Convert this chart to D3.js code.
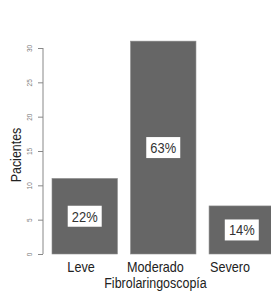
<!DOCTYPE html>
<html>
<head>
<meta charset="utf-8">
<script src="https://cdn.jsdelivr.net/npm/d3@7"></script>
<style>
  html, body { margin: 0; padding: 0; background: #fff; }
  svg { display: block; }
  text { font-family: 'Liberation Sans', Arial, sans-serif; }
</style>
</head>
<body>
<svg id="chart"></svg>
<script>
// Fibrolaringoscopía: patients per severity grade, percent boxed inside each bar.
var categories = ['Leve', 'Moderado', 'Severo'];
var pacientes  = [11, 31, 7];
var percents   = ['22%', '63%', '14%'];
var yTicks     = [0, 5, 10, 15, 20, 25, 30];

(function () {
    var W = 271, H = 294;
    var svg = d3.select('#chart').attr('width', W).attr('height', H);

    var x = d3.scaleBand().domain(categories)
        .range([52, 274.5]).paddingInner(0.1667).paddingOuter(0);
    // category labels sit on a slightly tighter spacing than the bars
    var xl = d3.scaleBand().domain(categories)
        .range([50, 261]).paddingInner(0.1667).paddingOuter(0);
    var y = d3.scaleLinear().domain([0, 30]).range([254, 48]);

    // condensed look: squeeze text horizontally
    function squeeze(cx, cy, sx, rot) {
        return 'translate(' + cx + ',' + cy + ')' + (rot ? ' rotate(' + rot + ')' : '') + ' scale(' + sx + ',1)';
    }

    // Bars
    svg.append('g').selectAll('rect')
        .data(categories)
        .enter().append('rect')
        .attr('x', function (d) { return x(d); })
        .attr('y', function (d, i) { return y(pacientes[i]); })
        .attr('width', x.bandwidth())
        .attr('height', function (d, i) { return y(0) - y(pacientes[i]); })
        .attr('fill', '#666666')
        .attr('stroke', '#8c8c8c')
        .attr('stroke-width', 0.6);

    // Boxed percent labels
    var lab = svg.append('g').selectAll('g')
        .data(categories)
        .enter().append('g')
        .attr('transform', function (d, i) {
            return 'translate(' + (x(d) + x.bandwidth() / 2) + ',' + y(pacientes[i] / 2) + ')';
        });
    lab.append('rect')
        .attr('x', -17).attr('y', -10.5)
        .attr('width', 34).attr('height', 21)
        .attr('fill', '#fff');
    lab.append('text')
        .attr('text-anchor', 'middle')
        .attr('dy', '0.36em')
        .attr('transform', 'scale(0.86,1)')
        .attr('font-size', 15)
        .attr('fill', '#333')
        .text(function (d, i) { return percents[i]; });

    // Y axis
    var ay = svg.append('g').attr('transform', 'translate(43,0)')
        .call(d3.axisLeft(y).tickValues(yTicks).tickSize(5).tickPadding(0)
            .tickFormat(function (d) { return d; }));
    ay.select('.domain').attr('stroke', '#888').attr('d', 'M0,' + y(0) + 'V' + y(30));
    ay.selectAll('.tick line').attr('stroke', '#888');
    ay.selectAll('.tick text')
        .attr('x', 0).attr('y', 2).attr('dy', 0)
        .attr('transform', 'translate(-13,0) rotate(-90)')
        .attr('text-anchor', 'middle')
        .attr('font-size', 6.5)
        .attr('fill', '#777');

    // Category labels
    svg.append('g').selectAll('text')
        .data(categories)
        .enter().append('text')
        .attr('transform', function (d) { return squeeze(xl(d) + xl.bandwidth() / 2, 271.5, 0.87); })
        .attr('text-anchor', 'middle')
        .attr('font-size', 14.5)
        .attr('fill', '#222')
        .text(function (d) { return d; });

    // Axis titles
    svg.append('text')
        .attr('transform', squeeze((xl.range()[0] + xl.range()[1]) / 2, 287.5, 0.89))
        .attr('text-anchor', 'middle')
        .attr('font-size', 14)
        .attr('fill', '#222')
        .text('Fibrolaringoscopía');
    svg.append('text')
        .attr('transform', squeeze(21, 155, 0.83, -90))
        .attr('text-anchor', 'middle')
        .attr('font-size', 15)
        .attr('fill', '#222')
        .text('Pacientes');
})();
</script>
</body>
</html>
